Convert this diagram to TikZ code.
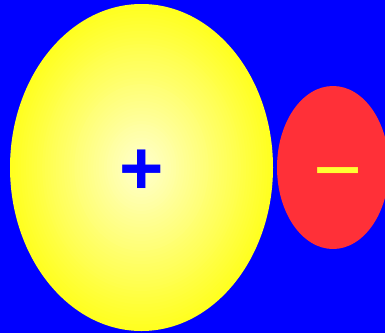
\documentclass[tikz,border=0pt]{standalone}
\usepackage{fontspec}
\setmainfont{Liberation Sans}
\usetikzlibrary{shapes.geometric}
\definecolor{glowin}{RGB}{255,255,205}
\definecolor{glowout}{RGB}{255,255,32}
\definecolor{holered}{RGB}{255,48,56}
\definecolor{holesign}{RGB}{255,255,51}
\begin{document}
\begin{tikzpicture}[x=1pt, y=-1pt,
		blob/.style={ellipse, inner sep=0pt, outer sep=0pt, draw=none},
		sign/.style={inner sep=0pt}]
	\fill[blue] (0,0) rectangle (385,333);
	\useasboundingbox (0,0) rectangle (385,333);
	\node[blob, fill=glowout, minimum width=263pt, minimum height=327pt] (ptype) at (141.5,167.5) {};
	\foreach \k in {1,...,48}
		{
			\pgfmathsetmacro\f{1-\k/49}
			\pgfmathtruncatemacro\p{100*\k/48}
			\fill[glowin!\p!glowout] (ptype.center) ellipse [x radius=\f*131.5, y radius=\f*163.5];
		}
	\node[blob, fill=holered, minimum width=112pt, minimum height=163pt] (ntype) at (333,167.5) {};
	\node[sign, text=blue, font=\bfseries\fontsize{76}{76}\selectfont] (plus) at (141.7,172.7) {+};
	\node[sign, text=holesign, font=\fontsize{84}{84}\selectfont] (minus) at (338,183) {−};
\end{tikzpicture}
\end{document}
